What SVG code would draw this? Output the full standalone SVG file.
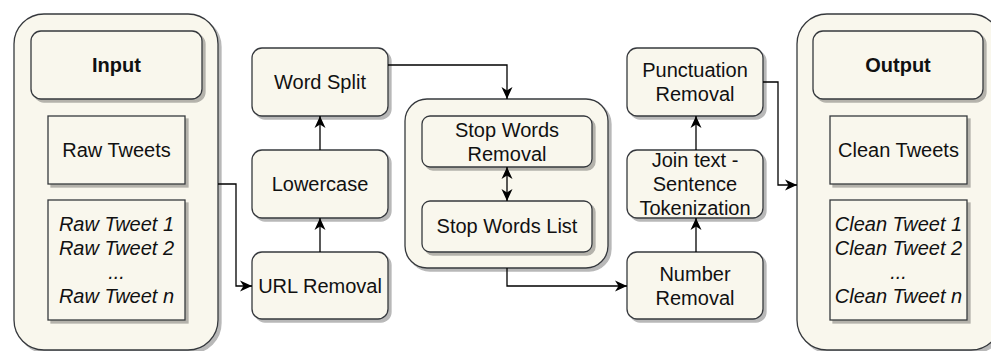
<svg xmlns="http://www.w3.org/2000/svg" width="991" height="351" viewBox="0 0 991 351">
<style>
.box{fill:#f9f7ed;stroke:#36393d;stroke-width:1.3;filter:url(#sh)}
.t{font-family:"Liberation Sans",Arial,sans-serif;font-size:20px;fill:#111;text-anchor:middle}
.b{font-weight:bold}
.i{font-style:italic}
.c{fill:none;stroke:#000;stroke-width:1.3}
</style>
<defs>
<filter id="sh" x="-10%" y="-10%" width="130%" height="130%">
<feDropShadow dx="3" dy="3" stdDeviation="0.6" flood-color="#000" flood-opacity="0.28"/>
</filter>
<marker id="ah" markerWidth="13" markerHeight="12" refX="12" refY="5.5" orient="auto" markerUnits="userSpaceOnUse" viewBox="0 0 13 11">
<path d="M0,0 L12,5.5 L0,11 L3.5,5.5 z" fill="#000"/>
</marker>
<marker id="as" markerWidth="13" markerHeight="12" refX="12" refY="5.5" orient="auto-start-reverse" markerUnits="userSpaceOnUse" viewBox="0 0 13 11">
<path d="M0,0 L12,5.5 L0,11 L3.5,5.5 z" fill="#000"/>
</marker>
</defs>

<g id="input">
<rect class="box" x="14" y="14" width="204" height="336" rx="30"/>
<rect class="box" x="31" y="31" width="171" height="68" rx="10"/>
<text class="t b" x="116.5" y="72">Input</text>
<rect class="box" x="48" y="116" width="137" height="68"/>
<text class="t" x="116.5" y="157">Raw Tweets</text>
<rect class="box" x="48" y="200" width="137" height="120"/>
<text class="t i" x="116.5" y="231">Raw Tweet 1</text>
<text class="t i" x="116.5" y="255">Raw Tweet 2</text>
<text class="t i" x="116.5" y="279">...</text>
<text class="t i" x="116.5" y="303">Raw Tweet n</text>
</g>

<g id="url-removal">
<rect class="box" x="252" y="252" width="136" height="67" rx="10"/>
<text class="t" x="320" y="293">URL Removal</text>
</g>
<g id="lowercase">
<rect class="box" x="252" y="150" width="136" height="68" rx="10"/>
<text class="t" x="320" y="191">Lowercase</text>
</g>
<g id="word-split">
<rect class="box" x="252" y="48" width="136" height="68" rx="10"/>
<text class="t" x="320" y="89">Word Split</text>
</g>

<g id="stop-words">
<rect class="box" x="405" y="99" width="203" height="169" rx="22"/>
<rect class="box" x="422" y="116" width="170" height="51" rx="8"/>
<text class="t" x="507" y="137">Stop Words</text>
<text class="t" x="507" y="161">Removal</text>
<rect class="box" x="422" y="201" width="170" height="51" rx="8"/>
<text class="t" x="507" y="233">Stop Words List</text>
</g>

<g id="number-removal">
<rect class="box" x="627" y="252" width="136" height="67" rx="10"/>
<text class="t" x="695" y="281">Number</text>
<text class="t" x="695" y="305">Removal</text>
</g>
<g id="join-text">
<rect class="box" x="627" y="150" width="136" height="68" rx="10"/>
<text class="t" x="695" y="167">Join text -</text>
<text class="t" x="695" y="191">Sentence</text>
<text class="t" x="695" y="215">Tokenization</text>
</g>
<g id="punctuation-removal">
<rect class="box" x="627" y="48" width="136" height="68" rx="10"/>
<text class="t" x="695" y="77">Punctuation</text>
<text class="t" x="695" y="101">Removal</text>
</g>

<g id="output">
<rect class="box" x="797" y="14" width="204" height="336" rx="30"/>
<rect class="box" x="813" y="31" width="170" height="68" rx="10"/>
<text class="t b" x="898" y="72">Output</text>
<rect class="box" x="830" y="116" width="137" height="68"/>
<text class="t" x="898.5" y="157">Clean Tweets</text>
<rect class="box" x="830" y="200" width="137" height="120"/>
<text class="t i" x="898.5" y="231">Clean Tweet 1</text>
<text class="t i" x="898.5" y="255">Clean Tweet 2</text>
<text class="t i" x="898.5" y="279">...</text>
<text class="t i" x="898.5" y="303">Clean Tweet n</text>
</g>

<g id="connectors">
<path class="c" d="M218,184 H236 V286 H252" marker-end="url(#ah)"/>
<path class="c" d="M320,252 V218" marker-end="url(#ah)"/>
<path class="c" d="M320,150 V116" marker-end="url(#ah)"/>
<path class="c" d="M388,65 H507 V99" marker-end="url(#ah)"/>
<path class="c" d="M507,167 V201" marker-start="url(#as)" marker-end="url(#as)"/>
<path class="c" d="M507,268 V286 H627" marker-end="url(#ah)"/>
<path class="c" d="M696,252 V218" marker-end="url(#ah)"/>
<path class="c" d="M696,150 V116" marker-end="url(#ah)"/>
<path class="c" d="M763,82 H778 V185 H797" marker-end="url(#ah)"/>
</g>
</svg>
